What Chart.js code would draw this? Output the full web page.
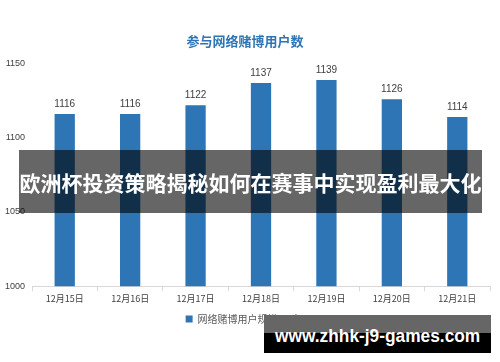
<!DOCTYPE html>
<html>
<head>
<meta charset="utf-8">
<script src="https://cdn.jsdelivr.net/npm/chart.js@4"></script>
<style>
  html, body { margin: 0; padding: 0; background: #fff; }
  #wrap { position: relative; width: 500px; height: 362px; overflow: hidden; }
  #banner {
    position: absolute; left: 19px; top: 150px; width: 463px; height: 63px;
    background: rgba(0, 0, 0, 0.6); color: #fff;
    font: bold 21px "Noto Sans CJK SC", sans-serif;
    display: flex; align-items: center; justify-content: center; white-space: nowrap;
  }
  #mark {
    position: absolute; left: 264px; top: 315px; width: 227px; height: 38px;
    background: linear-gradient(#666 0, #666 48%, #000 48%, #000 100%);
    color: #fff; font: bold 19px "Liberation Sans", Arial, sans-serif;
    display: flex; align-items: center; justify-content: center; white-space: nowrap;
  }
  #mark span { display: inline-block; transform-origin: center; margin-top: 4px; }
</style>
</head>
<body>
<div id="wrap">
  <canvas id="chart" width="500" height="362"></canvas>
  <div id="banner">欧洲杯投资策略揭秘如何在赛事中实现盈利最大化</div>
  <div id="mark"><span id="markText">www.zhhk-j9-games.com</span></div>
</div>
<script>
// data
const dates = ['12月15日', '12月16日', '12月17日', '12月18日', '12月19日', '12月20日', '12月21日'];
const users = [1116, 1116, 1122, 1137, 1139, 1126, 1114];
const yTicks = [1000, 1050, 1100, 1150];

const barBlue = '#2E75B6';

// squeeze the watermark to its width in the picture
const markText = document.getElementById('markText');
markText.style.transform = 'scaleX(' + (205 / markText.offsetWidth) + ')';

// value labels above each bar
const valueLabels = {
    id: 'valueLabels',
    afterDatasetsDraw(chart) {
        const ctx = chart.ctx;
        const meta = chart.getDatasetMeta(0);
        ctx.save();
        ctx.font = '10px "Liberation Sans", Arial, sans-serif';
        ctx.fillStyle = '#404040';
        ctx.textAlign = 'center';
        ctx.textBaseline = 'bottom';
        meta.data.forEach((bar, i) => {
            ctx.fillText(users[i], bar.x, bar.y - 5);
        });
        ctx.restore();
    }
};

new Chart(document.getElementById('chart').getContext('2d'), {
    type: 'bar',
    data: {
        labels: dates,
        datasets: [{
            label: '网络赌博用户规模(万人)',
            data: users,
            backgroundColor: barBlue,
            borderWidth: 0,
            barPercentage: 0.31,
            categoryPercentage: 1
        }]
    },
    options: {
        responsive: false,
        animation: false,
        layout: { padding: { left: 0, right: 10, top: 27, bottom: 28 } },
        plugins: {
            title: {
                display: true,
                text: '参与网络赌博用户数',
                color: barBlue,
                font: { size: 13, weight: 'bold', family: '"Noto Sans CJK SC", sans-serif' },
                padding: { top: 6, bottom: 15 }
            },
            legend: {
                position: 'bottom',
                labels: {
                    boxWidth: 7, boxHeight: 7,
                    color: '#595959',
                    font: { size: 10, family: '"Noto Sans CJK SC", sans-serif' },
                    padding: 8
                }
            },
            tooltip: { enabled: false }
        },
        scales: {
            x: {
                grid: { display: true, drawOnChartArea: false, drawTicks: true, tickLength: 5, color: '#D9D9D9' },
                border: { color: '#D9D9D9' },
                ticks: { color: '#404040', font: { size: 9, family: '"Noto Sans CJK SC", sans-serif' }, padding: 2 }
            },
            y: {
                min: 1000, max: 1150,
                afterBuildTicks(scale) { scale.ticks = yTicks.map(v => ({ value: v })); },
                afterFit(scale) { scale.width = 32; },
                grid: { display: false, drawTicks: false },
                border: { display: false },
                ticks: {
                    color: '#404040',
                    font: { size: 9, family: '"Liberation Sans", Arial, sans-serif' },
                    padding: 7,
                    callback: v => String(v)
                }
            }
        }
    },
    plugins: [valueLabels]
});
</script>
</body>
</html>
